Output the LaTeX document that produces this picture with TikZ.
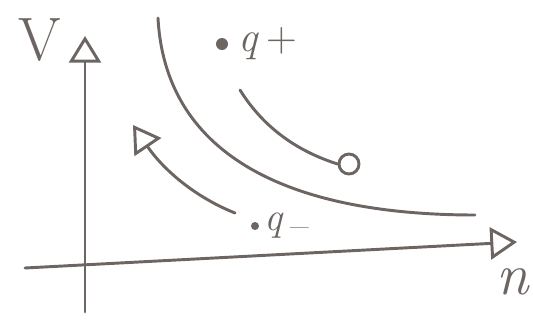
\documentclass[tikz,border=0pt]{standalone}
\usepackage{amssymb}
\usepackage{tikz}
\usetikzlibrary{arrows.meta}
\definecolor{pencil}{RGB}{108,101,98}
\tikzset{
	pen/.style={draw=pencil, line width=2.2pt, line cap=round, line join=round},
	tip/.style={-{Triangle[open, length=20pt, width=24pt, line width=2.2pt]}},
	lbl/.style={text=pencil, inner sep=0pt}
}
\begin{document}
\begin{tikzpicture}[x=0.75pt,y=-0.75pt]
			\useasboundingbox (0,0) rectangle (533,322);
			% axes
			\coordinate (vbot) at (85,312);
			\coordinate (vtop) at (85,36);
			\coordinate (nleft) at (25,268);
			\coordinate (nright) at (517,242);
			\draw[pen, tip] (vbot) -- (vtop);
			\draw[pen, tip] (nleft) -- (nright);
			\node[lbl, font=\fontsize{46}{46}\selectfont] (vlab) at (40,40) {V};
			\node[lbl, font=\fontsize{44}{44}\selectfont\itshape] (nlab) at (513,282) {n};
			% curve
			\coordinate (c1) at (158,18);
			\coordinate (c2) at (475,215);
			\draw[pen] (c1) .. controls (165,150) and (280,215) .. (c2);
			% points
			\fill[pencil] (222,44) circle(6) coordinate (qp);
			\node[lbl, font=\fontsize{32}{32}\selectfont, anchor=west] (qplab) at (238,44) {\textit{q}\,+};
			\fill[pencil] (255,226) circle(4) coordinate (qm);
			\node[lbl, font=\fontsize{30}{30}\selectfont, anchor=west] (qmlab) at (264,226) {\textit{q}\,\raisebox{-0.2em}{\textendash}};
			% flows
			\coordinate (a1) at (235,213);
			\coordinate (a2) at (133,125);
			\draw[pen, tip] (a1) .. controls (190,195) and (160,165) .. (a2);
			\node[pen, circle, minimum size=15pt, inner sep=0pt] (endpt) at (349,164) {};
			\coordinate (b1) at (240,90);
			\draw[pen] (b1) .. controls (265,130) and (300,152) .. (endpt.west);
		\end{tikzpicture}
\end{document}
